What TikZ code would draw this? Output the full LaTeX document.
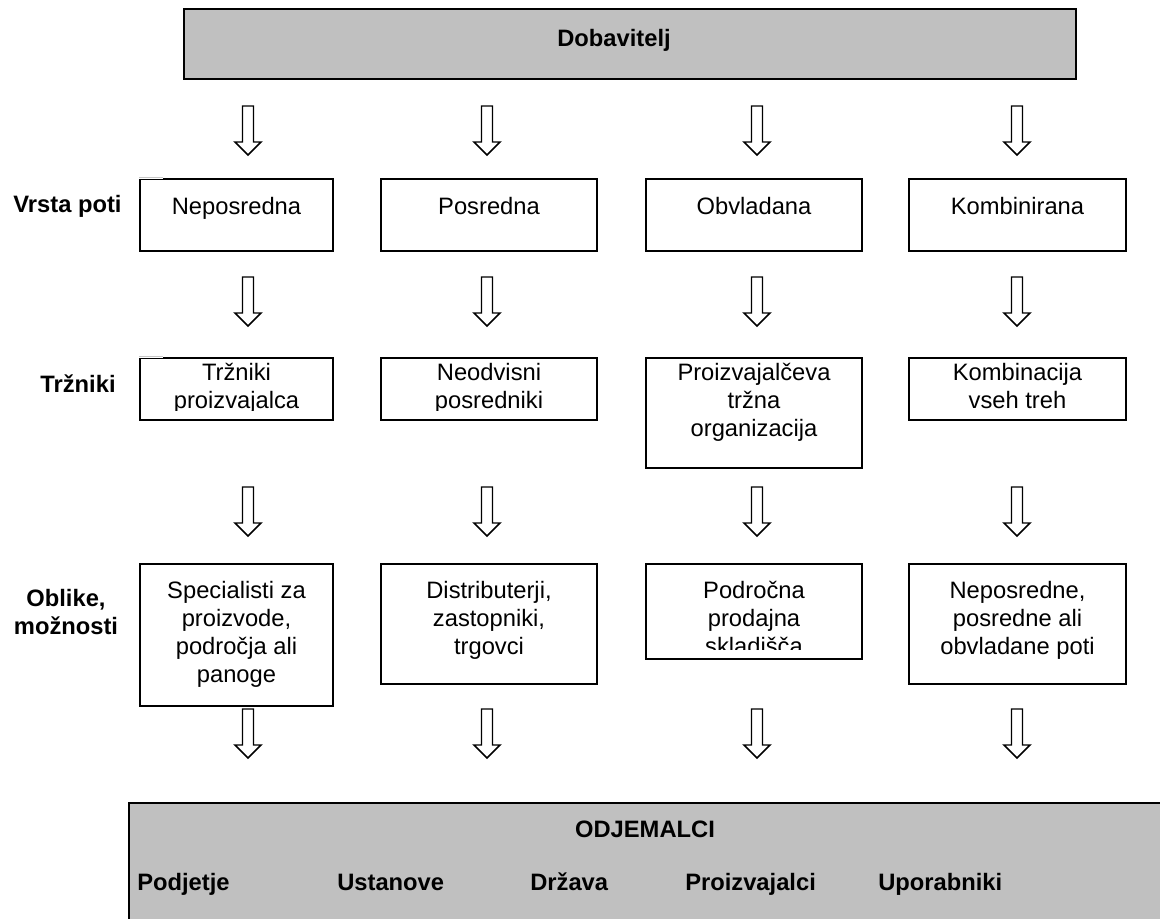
\documentclass[tikz,border=0pt]{standalone}
\usepackage{fontspec}
\setmainfont{Liberation Sans}
\definecolor{boxgray}{RGB}{192,192,192}
\newcommand\tstrut{\rule{0pt}{18pt}}
\begin{document}
\begin{tikzpicture}[x=0.75pt, y=-0.75pt,
  frame/.style={draw=black, line width=1.5pt, inner sep=0pt, anchor=north west},
  shadedbox/.style={frame, fill=boxgray},
  % box size given in the same units as the coordinates
  sz/.style 2 args={minimum width=0.75pt*#1, minimum height=0.75pt*#2},
  txt/.style={inner sep=0pt, minimum width=0pt, minimum height=0pt, align=center,
              font=\fontsize{17.8}{21}\selectfont},
  lbl/.style={inner sep=0pt, align=center, font=\fontsize{17.8}{21}\selectfont\bfseries},
  % text set from the top of a box, cut off just inside its lower edge
  boxtext/.style 2 args={path picture={
      \clip ([yshift=7pt]path picture bounding box.south west)
            rectangle (path picture bounding box.north east);
      \node[txt, anchor=north] at ([yshift=#1]path picture bounding box.north) {\tstrut #2};}},
  hollow/.style={draw=black, line width=1.1pt, fill=white, line join=miter},
  pics/downarrow/.style={code={
      \draw[hollow] (-5.5,0) -- (5.5,0) -- (5.5,36) -- (13,36) -- (0,49)
                    -- (-13,36) -- (-5.5,36) -- cycle;}}
]
\useasboundingbox (0,0) rectangle (1160,918);

% supplier
\node[shadedbox, sz={892}{70}] (dobav) at (183,8) {};
\node[lbl, anchor=base] (dobavt) at (614,46) {Dobavitelj};

% row labels
\node[lbl, anchor=base] (lvrsta) at (67.5,212) {Vrsta poti};
\node[lbl, anchor=base] (ltrz) at (78,392) {Tržniki};
\node[lbl, anchor=north] (lobl) at (66,582) {\tstrut Oblike,\\možnosti};

% arrows from the supplier
\foreach \x in {248,487,757,1017} \pic at (\x,106) {downarrow};

% channel type
\node[frame, sz={193}{72}, boxtext={-7.5pt}{Neposredna}] (v1) at (139,178) {};
\node[frame, sz={216}{72}, boxtext={-7.5pt}{Posredna}] (v2) at (380,178) {};
\node[frame, sz={216}{72}, boxtext={-7.5pt}{Obvladana}] (v3) at (645,178) {};
\node[frame, sz={217}{72}, boxtext={-7.5pt}{Kombinirana}] (v4) at (908,178) {};
\draw[white, line width=1.6pt] (139,178) -- (163,178);
\draw[gray!45, line width=1pt] (139,177.3) -- (163,177.3);

\foreach \x in {248,487,757,1017} \pic at (\x,277) {downarrow};

% marketers
\node[frame, sz={193}{62}, boxtext={2.25pt}{Tržniki\\proizvajalca}] (t1) at (139,357) {};
\node[frame, sz={216}{62}, boxtext={2.25pt}{Neodvisni\\posredniki}] (t2) at (380,357) {};
\node[frame, sz={216}{110}, boxtext={2.25pt}{Proizvajalčeva\\tržna\\organizacija}] (t3) at (645,357) {};
\node[frame, sz={217}{62}, boxtext={2.25pt}{Kombinacija\\vseh treh}] (t4) at (908,357) {};
\draw[white, line width=1.6pt] (139,357) -- (163,357);
\draw[gray!45, line width=1pt] (139,356.3) -- (163,356.3);

\foreach \x in {248,487,757,1017} \pic at (\x,487) {downarrow};

% forms and options
\node[frame, sz={193}{142}, boxtext={-6.75pt}{Specialisti za\\proizvode,\\področja ali\\panoge}] (o1) at (139,563) {};
\node[frame, sz={216}{120}, boxtext={-6.75pt}{Distributerji,\\zastopniki,\\trgovci}] (o2) at (380,563) {};
\node[frame, sz={216}{95}, boxtext={-6.75pt}{Področna\\prodajna\\skladišča}] (o3) at (645,563) {};
\node[frame, sz={217}{120}, boxtext={-6.75pt}{Neposredne,\\posredne ali\\obvladane poti}] (o4) at (908,563) {};

\foreach \x in {248,487,757,1017} \pic at (\x,709) {downarrow};

% customers
\node[shadedbox, sz={1047}{133}] (odj) at (128,802) {};
\node[lbl, anchor=base] (odjt) at (645,837) {ODJEMALCI};
\node[lbl, anchor=base west] (c1) at (137,890) {Podjetje};
\node[lbl, anchor=base west] (c2) at (337,890) {Ustanove};
\node[lbl, anchor=base west] (c3) at (530,890) {Država};
\node[lbl, anchor=base west] (c4) at (685,890) {Proizvajalci};
\node[lbl, anchor=base west] (c5) at (878,890) {Uporabniki};
\end{tikzpicture}
\end{document}
